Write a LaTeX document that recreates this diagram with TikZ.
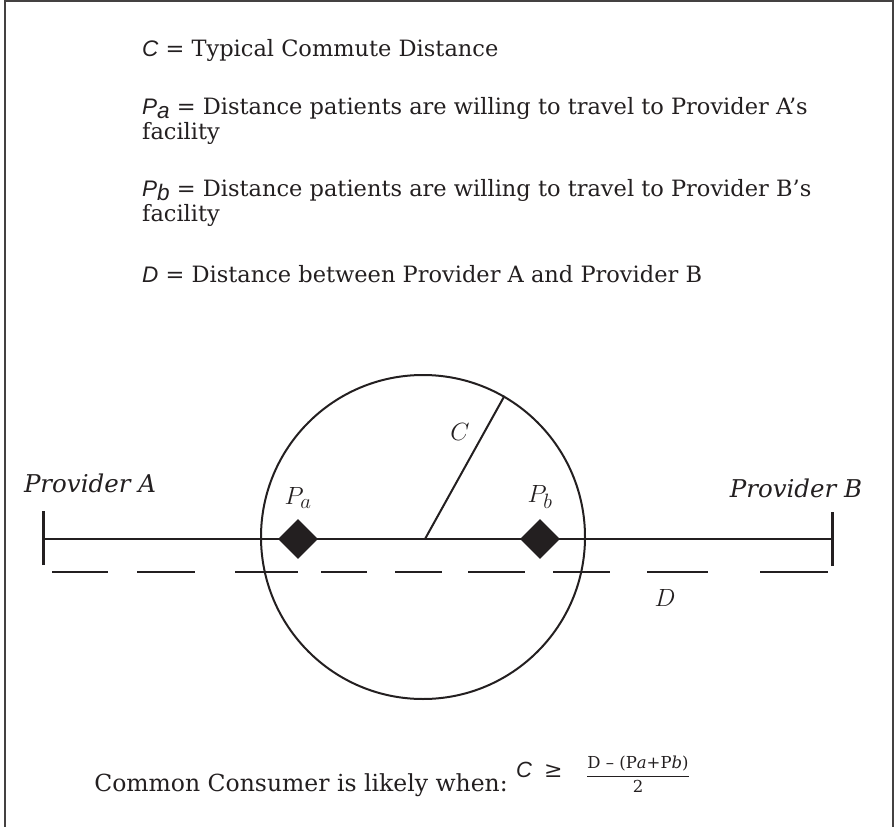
\documentclass[tikz,border=0pt]{standalone}
\usepackage{fontspec}
\setmainfont{DejaVu Serif}
\newfontfamily\varfont{Liberation Sans}
\usetikzlibrary{positioning,shapes.geometric}
\definecolor{Ink}{HTML}{231F20}
% legend variables, e.g. \var{P}{a}
\newcommand{\var}[2]{{\varfont\itshape #1\raisebox{-4pt}{#2}}}

\begin{document}
\begin{tikzpicture}[
    x=1pt, y=-1pt,
    line/.style={draw=Ink, line width=2pt},
    legend/.style={inner sep=0pt, align=left, text=Ink, font=\fontsize{22.5}{25}\selectfont},
    provider/.style={inner sep=0pt, text=Ink, font=\itshape\fontsize{24.5}{28}\selectfont},
    marker/.style={diamond, fill=Ink, minimum size=40pt, inner sep=0pt},
    sym/.style={inner sep=0pt, text=Ink, font=\fontsize{30}{34}\selectfont}
  ]
    \useasboundingbox (0,0) rectangle (895,827);

    % Frame
    \draw [draw=Ink!85, line width=1.5pt] (5,827) -- (5,1) -- (893,1) -- (893,827);

    % Legend
    \node (defC) [legend, anchor=west] at (142,50) {\var{C}{} = Typical Commute Distance};
    \node (defPa) [legend, below=36pt of defC.south west, anchor=north west] {\var{P}{a} = Distance patients are willing to travel to Provider A’s\\facility};
    \node (defPb) [legend, below=34pt of defPa.south west, anchor=north west] {\var{P}{b} = Distance patients are willing to travel to Provider B’s\\facility};
    \node (defD) [legend, below=39pt of defPb.south west, anchor=north west] {\var{D}{} = Distance between Provider A and Provider B};

    % Providers and the line between them
    \coordinate (endA) at (43,539);
    \coordinate (endB) at (832,539);
    \coordinate (centre) at (425,539);
    \draw [line] (endA) -- (endB);
    \draw [draw=Ink, line width=3pt] ([yshift=-26pt]endA) -- ([yshift=28pt]endA);
    \draw [draw=Ink, line width=3pt] ([yshift=-27pt]endB) -- ([yshift=27pt]endB);
    \node (provA) [provider] at (90,483) {Provider A};
    \node (provB) [provider] at (796,488) {Provider B};

    % Distance D
    \foreach \a/\b in {52/108, 137/195, 235/298, 321/367, 395/442, 468/525, 553/610, 647/708, 760/828}
      \draw [line] (\a,572) -- (\b,572);
    \node (lblD) [sym] at (665,598) {$D$};

    % Commute circle
    \node (commute) [circle, draw=Ink, line width=2pt, minimum size=324pt, inner sep=0pt] at (423,537) {};
    \draw [line] (centre) -- (commute.60);
    \node (lblC) [sym] at (460,432) {$C$};

    % Patient reach
    \node (pa) [marker] at (298,539) {};
    \node (pb) [marker] at (540,539) {};
    \node (lblPa) [sym, above=10pt of pa] {$P_a$};
    \node (lblPb) [sym, above=10pt of pb] {$P_b$};

    % Condition
    \node (cond) [inner sep=0pt, text=Ink, font=\fontsize{23.5}{27}\selectfont, anchor=east] at (508,785) {Common Consumer is likely when:};
    \node (ineq) [inner sep=0pt, text=Ink, font=\fontsize{22}{26}\selectfont, anchor=west] at (516,772) {\var{C}{}\hspace{12pt}≥};
    \node (frac) [inner sep=0pt, text=Ink, font=\fontsize{16.5}{19}\selectfont] at (638,774) {$\displaystyle\frac{\mbox{D – (P\textit{a}+P\textit{b})}}{\mbox{2}}$};
  \end{tikzpicture}
\end{document}
